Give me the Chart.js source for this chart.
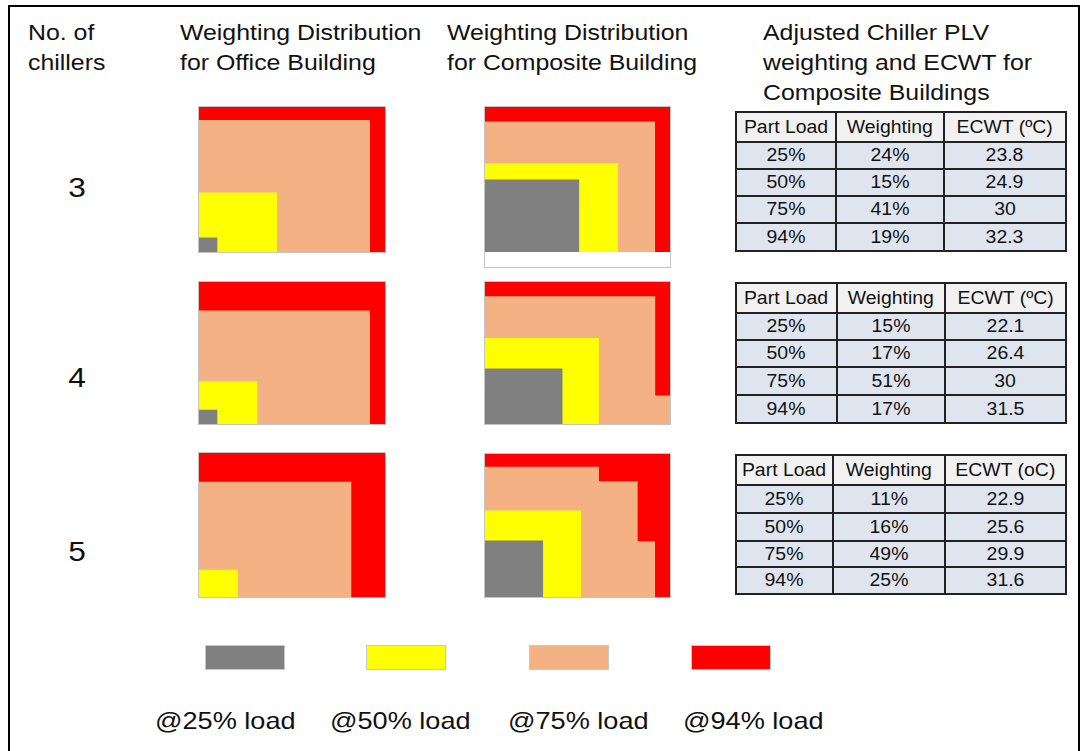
<!DOCTYPE html>
<html>
<head>
<meta charset="utf-8">
<script src="https://cdn.jsdelivr.net/npm/chart.js@4"></script>
<style>
  html, body { margin: 0; padding: 0; background: #fff; }
  body { width: 1086px; height: 751px; position: relative; overflow: hidden;
         font-family: "Liberation Sans", Arial, sans-serif; color: #111; }
  .frame { position: absolute; left: 8px; top: 5px; width: 1068px; height: 800px; border: 2px solid #000; }
  .abs { position: absolute; }
  .title { font-size: 22px; line-height: 30px; white-space: nowrap; transform: scaleX(1.13); transform-origin: left top; }
  .num { font-size: 28px; line-height: 32px; width: 40px; text-align: center; transform: scaleX(1.13); }
  canvas { position: absolute; outline: 1px solid #c4c4c4; }
  table { position: absolute; border-collapse: collapse; table-layout: fixed; }
  td { border: 2px solid #222; text-align: center; font-size: 18px; padding: 0; white-space: nowrap; }
  td span { display: inline-block; transform: scaleX(1.08); }
  tr.head td { background: #f1f1f1; }
  tr.row td { background: #dfe5ee; }
  .swatch { position: absolute; width: 80px; height: 25px; border: 1px solid #c8c8c8; box-sizing: border-box; }
  .leg { font-size: 24px; line-height: 28px; white-space: nowrap; transform: scaleX(1.13); transform-origin: left top; }
</style>
</head>
<body>
<div class="frame"></div>
<div id="page"></div>
<script>
// === данные ===
const loadLabels = ['@25% load', '@50% load', '@75% load', '@94% load'];
const loadColors = ['#808080', '#ffff00', '#f4b183', '#ff0000'];
const chillerCounts = ['3', '4', '5'];

// layers: gray, yellow, peach, red; each = steps [x end %, height %]
const office3 = [[[10, 10]], [[42, 41]], [[92, 91]], [[100, 100]]];
const composite3 = [[[51, 50]], [[72, 61]], [[92, 90]], [[100, 100]]];
const office4 = [[[10, 10]], [[31.5, 30]], [[92, 80]], [[100, 100]]];
const composite4 = [[[42, 39]], [[61.6, 60.5]], [[92, 90], [100, 20]], [[100, 100]]];
const office5 = [[], [[21, 19]], [[82, 80]], [[100, 100]]];
const composite5 = [[[31.5, 39.5]], [[52, 60.5]], [[61.6, 91], [82.5, 81], [92, 39]], [[100, 100]]];

const tableHead = ['Part Load', 'Weighting', 'ECWT (ºC)'];
const tableHead5 = ['Part Load', 'Weighting', 'ECWT (oC)'];
const partLoads = ['25%', '50%', '75%', '94%'];
const weighting3 = ['24%', '15%', '41%', '19%'];
const ecwt3 = ['23.8', '24.9', '30', '32.3'];
const weighting4 = ['15%', '17%', '51%', '17%'];
const ecwt4 = ['22.1', '26.4', '30', '31.5'];
const weighting5 = ['11%', '16%', '49%', '25%'];
const ecwt5 = ['22.9', '25.6', '29.9', '31.6'];

const page = document.getElementById('page');

function addDiv(cls, left, top, html) {
  const d = document.createElement('div');
  d.className = 'abs ' + cls;
  d.style.left = left + 'px';
  d.style.top = top + 'px';
  d.innerHTML = html;
  page.appendChild(d);
  return d;
}

// заголовки
addDiv('title', 28, 18, 'No. of<br>chillers');
addDiv('title', 180, 18, 'Weighting Distribution<br>for Office Building');
addDiv('title', 447, 18, 'Weighting Distribution<br>for Composite Building');
addDiv('title', 763, 18, 'Adjusted Chiller PLV<br>weighting and ECWT for<br>Composite Buildings');

const numTops = [172, 362, 536];
chillerCounts.forEach((c, i) => addDiv('num', 57, numTops[i], c));

// === мини-графики ===
function stepPoints(steps) {
  const pts = [];
  let x0 = 0;
  steps.forEach(([xEnd, h]) => { pts.push({ x: x0, y: h }); x0 = xEnd; });
  if (steps.length) pts.push({ x: x0, y: steps[steps.length - 1][1] });
  return pts;
}

function drawLayers(layers, left, top, w, h, yMin) {
  const cv = document.createElement('canvas');
  cv.width = w; cv.height = h;
  cv.style.left = left + 'px';
  cv.style.top = top + 'px';
  page.appendChild(cv);
  new Chart(cv.getContext('2d'), {
    type: 'line',
    data: {
      datasets: layers.map((steps, i) => ({
        label: loadLabels[i],
        data: stepPoints(steps),
        stepped: true,
        fill: 'origin',
        backgroundColor: loadColors[i],
        borderColor: 'transparent',
        borderWidth: 0,
        pointRadius: 0
      }))
    },
    options: {
      responsive: false,
      animation: false,
      events: [],
      layout: { padding: 0 },
      plugins: { legend: { display: false }, tooltip: { enabled: false } },
      scales: {
        x: { type: 'linear', min: 0, max: 100, display: false },
        y: { min: yMin, max: 100, display: false }
      }
    }
  });
}

drawLayers(office3, 199, 107, 186, 145, 0);
drawLayers(composite3, 485, 107, 185, 160, -10.3);
drawLayers(office4, 199, 282, 186, 142, 0);
drawLayers(composite4, 485, 282, 185, 142, 0);
drawLayers(office5, 199, 453, 186, 144, 0);
drawLayers(composite5, 485, 454, 185, 143, 0);

// === таблицы ===
function addTable(left, top, colW, rowH, head, weights, ecwts) {
  const t = document.createElement('table');
  t.style.left = left + 'px';
  t.style.top = top + 'px';
  let html = '<colgroup>' + colW.map(w => '<col style="width:' + w + 'px">').join('') + '</colgroup>';
  html += '<tr class="head" style="height:' + rowH[0] + 'px">' + head.map(s => '<td><span>' + s + '</span></td>').join('') + '</tr>';
  partLoads.forEach((p, i) => {
    html += '<tr class="row" style="height:' + rowH[i + 1] + 'px"><td><span>' + p + '</span></td><td><span>' +
      weights[i] + '</span></td><td><span>' + ecwts[i] + '</span></td></tr>';
  });
  t.innerHTML = html;
  page.appendChild(t);
}

addTable(735, 111, [100, 108, 122], [30, 27, 27, 27, 28], tableHead, weighting3, ecwt3);
addTable(735, 282, [101, 108, 121], [30, 27, 27, 28, 28], tableHead, weighting4, ecwt4);
addTable(735, 454, [97, 112, 121], [30, 28, 28, 26, 27], tableHead5, weighting5, ecwt5);

// === легенда ===
const swatchLefts = [205, 366, 529, 691];
const labelLefts = [155, 330, 508, 683];
loadColors.forEach((c, i) => {
  const s = document.createElement('div');
  s.className = 'swatch';
  s.style.left = swatchLefts[i] + 'px';
  s.style.top = '645px';
  s.style.background = c;
  page.appendChild(s);
  addDiv('leg', labelLefts[i], 707, loadLabels[i]);
});
</script>
</body>
</html>
